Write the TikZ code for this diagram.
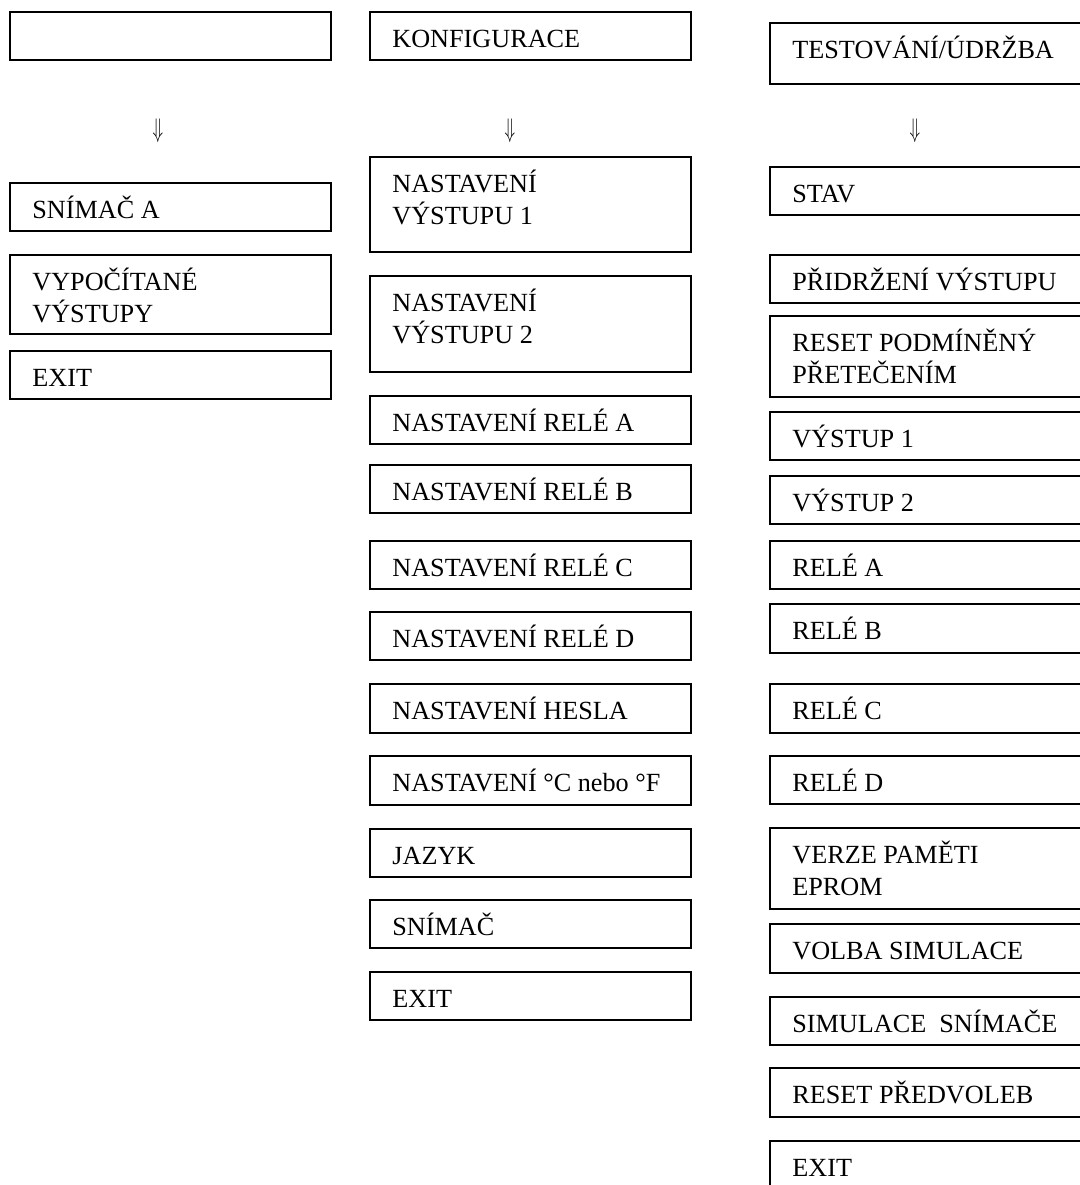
\documentclass[tikz,border=0pt]{standalone}
\usepackage{fontspec}
\usepackage{graphicx}
\setmainfont{Liberation Serif}
\begin{document}
\begin{tikzpicture}[x=0.5pt,y=-0.5pt,
  menubox/.style={draw=black, line width=0.9pt, inner sep=0pt, outer sep=0pt, minimum width=160.5pt},
  txt/.style={inner sep=0pt, font=\fontsize{13.1}{16}\selectfont},
  downarrow/.style={inner sep=0pt, font=\fontsize{13.1}{16}\selectfont}]
\useasboundingbox (0,0) rectangle (1080,1185);
\clip (0,0) rectangle (1080,1185);
\newcommand\mbx[5]{%
  \node[menubox, anchor=north west, minimum height={(#4-#3)*0.5pt}] (#1) at (#2,#3) {};
  \node[txt, anchor=base west] (#1t) at ([xshift=11pt,yshift=-17.5pt]#1.north west)
    {\begin{tabular}[t]{@{}l@{}}#5\end{tabular}};}
\newcommand\darr{\scalebox{0.72}[1.12]{$\Downarrow$}}
% column 1
\mbx{a0}{10}{12}{60}{}
\node[downarrow] (a0arr) at (158,130.5) {\darr};
\mbx{a1}{10}{183}{231}{SNÍMAČ A}
\mbx{a2}{10}{255}{334}{VYPOČÍTANÉ\\VÝSTUPY}
\mbx{a3}{10}{351}{399}{EXIT}
% column 2
\mbx{b0}{370}{12}{60}{KONFIGURACE}
\node[downarrow] (b0arr) at (510,130.5) {\darr};
\mbx{b1}{370}{157}{252}{NASTAVENÍ\\VÝSTUPU 1}
\mbx{b2}{370}{276}{372}{NASTAVENÍ\\VÝSTUPU 2}
\mbx{b3}{370}{396}{444}{NASTAVENÍ RELÉ A}
\mbx{b4}{370}{465}{513}{NASTAVENÍ RELÉ B}
\mbx{b5}{370}{541}{589}{NASTAVENÍ RELÉ C}
\mbx{b6}{370}{612}{660}{NASTAVENÍ RELÉ D}
\mbx{b7}{370}{684}{733}{NASTAVENÍ HESLA}
\mbx{b8}{370}{756}{805}{NASTAVENÍ °C nebo °F}
\mbx{b9}{370}{829}{877}{JAZYK}
\mbx{b10}{370}{900}{948}{SNÍMAČ}
\mbx{b11}{370}{972}{1020}{EXIT}
% column 3
\mbx{c0}{770}{23}{84}{TESTOVÁNÍ/ÚDRŽBA}
\node[downarrow] (c0arr) at (915,130.5) {\darr};
\mbx{c1}{770}{167}{215}{STAV}
\mbx{c2}{770}{255}{303}{PŘIDRŽENÍ VÝSTUPU}
\mbx{c3}{770}{316}{397}{RESET PODMÍNĚNÝ\\PŘETEČENÍM}
\mbx{c4}{770}{412}{460}{VÝSTUP 1}
\mbx{c5}{770}{476}{524}{VÝSTUP 2}
\mbx{c6}{770}{541}{589}{RELÉ A}
\mbx{c7}{770}{604}{653}{RELÉ B}
\mbx{c8}{770}{684}{733}{RELÉ C}
\mbx{c9}{770}{756}{804}{RELÉ D}
\mbx{c10}{770}{828}{909}{VERZE PAMĚTI\\EPROM}
\mbx{c11}{770}{924}{973}{VOLBA SIMULACE}
\mbx{c12}{770}{997}{1045}{SIMULACE\ \ SNÍMAČE}
\mbx{c13}{770}{1068}{1117}{RESET PŘEDVOLEB}
\mbx{c14}{770}{1141}{1189}{EXIT}
\end{tikzpicture}
\end{document}
